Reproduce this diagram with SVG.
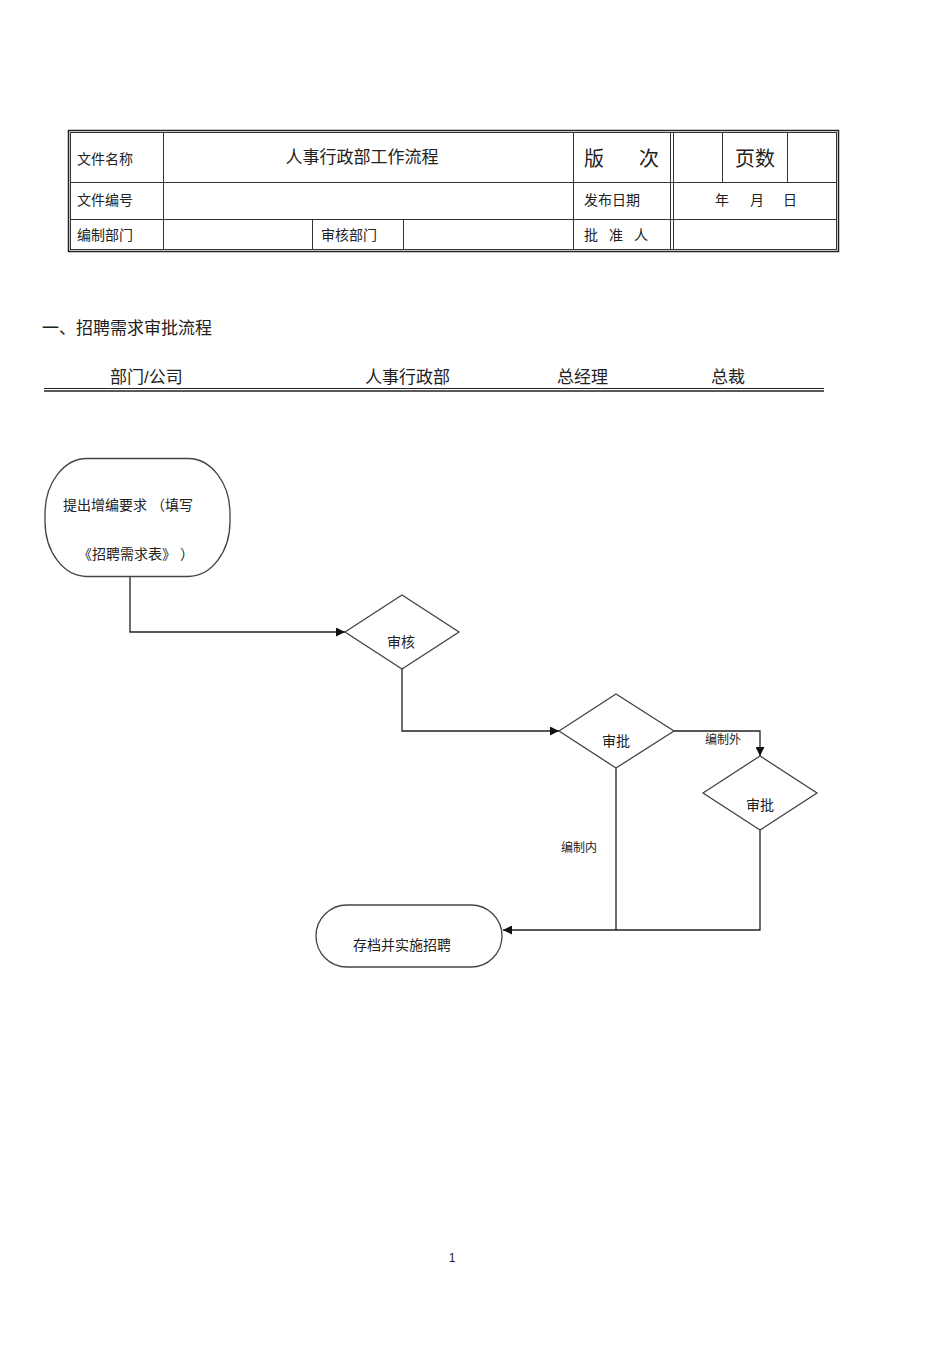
<svg xmlns="http://www.w3.org/2000/svg" width="950" height="1345" viewBox="0 0 950 1345">
<defs>
<style>
text{font-family:"Liberation Sans","Noto Sans CJK SC",sans-serif;fill:#222}
.t{font-size:14px}
.tl{stroke:#333;stroke-width:1;fill:none}
.sh{stroke:#444;stroke-width:1.3;fill:#fff}
.cn{stroke:#222;stroke-width:1.3;fill:none}
.lb{font-size:12px}
</style>
<marker id="ar" viewBox="0 0 10 10" refX="10" refY="5" markerWidth="9" markerHeight="9" markerUnits="userSpaceOnUse" orient="auto"><path d="M0,0L10,5L0,10z" fill="#111"/></marker>
</defs>
<rect width="950" height="1345" fill="#fff"/>
<g id="table">
<rect x="68.5" y="130.5" width="770" height="121" fill="none" stroke="#222" stroke-width="1.5"/>
<rect x="70.5" y="132.5" width="766" height="117" class="tl"/>
<line x1="70" y1="182.5" x2="837" y2="182.5" class="tl"/>
<line x1="70" y1="219.5" x2="837" y2="219.5" class="tl"/>
<line x1="163.5" y1="132" x2="163.5" y2="250" class="tl"/>
<line x1="573.5" y1="132" x2="573.5" y2="250" class="tl"/>
<line x1="670.5" y1="132" x2="670.5" y2="250" class="tl"/>
<line x1="673.5" y1="132" x2="673.5" y2="250" class="tl"/>
<line x1="722.5" y1="132" x2="722.5" y2="182" class="tl"/>
<line x1="787.5" y1="132" x2="787.5" y2="182" class="tl"/>
<line x1="312.5" y1="219" x2="312.5" y2="250" class="tl"/>
<line x1="403.5" y1="219" x2="403.5" y2="250" class="tl"/>
<text x="77" y="164" class="t">文件名称</text>
<text x="362" y="163" font-size="17" text-anchor="middle">人事行政部工作流程</text>
<text x="584" y="166" font-size="20">版</text>
<text x="639" y="166" font-size="20">次</text>
<text x="755" y="166" font-size="20" text-anchor="middle">页数</text>
<text x="77" y="205" class="t">文件编号</text>
<text x="584" y="205" class="t">发布日期</text>
<text x="715" y="205" class="t">年</text>
<text x="750" y="205" class="t">月</text>
<text x="783" y="205" class="t">日</text>
<text x="77" y="240" class="t">编制部门</text>
<text x="321" y="240" class="t">审核部门</text>
<text x="584" y="240" class="t">批</text>
<text x="609" y="240" class="t">准</text>
<text x="634" y="240" class="t">人</text>
</g>
<g id="heading">
<text x="42" y="334" font-size="17">一、招聘需求审批流程</text>
<text x="110" y="383" font-size="17">部门/公司</text>
<text x="365" y="383" font-size="17">人事行政部</text>
<text x="557" y="383" font-size="17">总经理</text>
<text x="711" y="383" font-size="17">总裁</text>
<line x1="44" y1="388.5" x2="824" y2="388.5" stroke="#222" stroke-width="1"/>
<line x1="44" y1="391" x2="824" y2="391" stroke="#222" stroke-width="1.5"/>
</g>
<g id="connectors">
<polyline points="130,576 130,632 345,632" class="cn" marker-end="url(#ar)"/>
<polyline points="402,669 402,731 559,731" class="cn" marker-end="url(#ar)"/>
<polyline points="674,731 760,731 760,756" class="cn" marker-end="url(#ar)"/>
<polyline points="760,830 760,930 616,930" class="cn"/>
<polyline points="616,768 616,930 503,930" class="cn" marker-end="url(#ar)"/>
<text x="705" y="744" class="lb">编制外</text>
<text x="561" y="852" class="lb">编制内</text>
</g>
<g id="n1">
<rect x="45" y="458.5" width="185" height="118" rx="42" ry="55" class="sh"/>
<text x="63" y="510" class="t">提出增编要求 （填写</text>
<text x="78" y="559" class="t">《招聘需求表》 ）</text>
</g>
<g id="n2">
<polygon points="345,632 402,595 459,632 402,669" class="sh"/>
<text x="401" y="647" class="t" text-anchor="middle">审核</text>
</g>
<g id="n3">
<polygon points="559,731 616,694 674,731 616,768" class="sh"/>
<text x="616" y="746" class="t" text-anchor="middle">审批</text>
</g>
<g id="n4">
<polygon points="703,793 760,756 817,793 760,830" class="sh"/>
<text x="760" y="810" class="t" text-anchor="middle">审批</text>
</g>
<g id="n5">
<rect x="316" y="905" width="186" height="62" rx="31" ry="31" class="sh"/>
<text x="402" y="950" class="t" text-anchor="middle">存档并实施招聘</text>
</g>
<text x="452" y="1262" font-size="12" text-anchor="middle">1</text>
</svg>
